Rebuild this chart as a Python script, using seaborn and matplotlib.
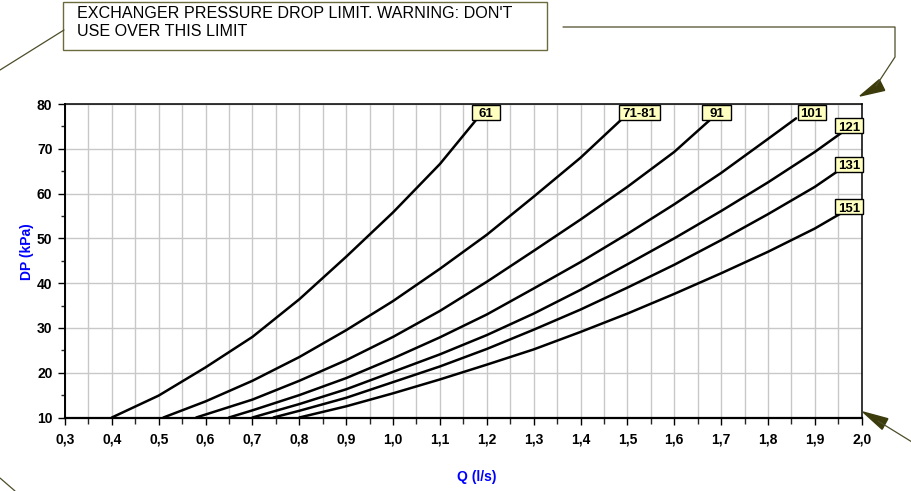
import matplotlib
matplotlib.use("Agg")
import matplotlib.pyplot as plt
from matplotlib.patches import Rectangle, Polygon
from matplotlib.lines import Line2D
from matplotlib.ticker import MultipleLocator, FixedLocator
import seaborn as sns
import pandas as pd

# ---------------- data ----------------
models = ["61", "71-81", "91", "101", "121", "131", "151"]

q61 = [0.40, 0.50, 0.60, 0.70, 0.80, 0.90, 1.00, 1.10, 1.18]
dp61 = [10.0, 14.9, 21.2, 28.0, 36.4, 45.9, 55.8, 66.6, 76.8]

q71 = [0.51, 0.60, 0.70, 0.80, 0.90, 1.00, 1.10, 1.20, 1.30, 1.40, 1.49]
dp71 = [10.0, 13.6, 18.2, 23.5, 29.5, 36.0, 43.2, 50.8, 59.3, 68.0, 76.8]

q91 = [0.58, 0.70, 0.80, 0.90, 1.00, 1.10, 1.20, 1.30, 1.40, 1.50, 1.60, 1.68]
dp91 = [10.0, 14.0, 18.2, 22.8, 28.0, 33.8, 40.3, 47.2, 54.2, 61.5, 69.3, 76.8]

q101 = [0.65, 0.70, 0.80, 0.90, 1.00, 1.10, 1.20, 1.30, 1.40, 1.50, 1.60, 1.70, 1.80, 1.86]
dp101 = [10.0, 11.6, 15.0, 18.8, 23.2, 27.9, 33.0, 38.8, 44.7, 51.0, 57.6, 64.6, 72.2, 76.8]

q121 = [0.70, 0.80, 0.90, 1.00, 1.10, 1.20, 1.30, 1.40, 1.50, 1.60, 1.70, 1.80, 1.90, 1.96]
dp121 = [10.0, 13.0, 16.3, 20.2, 24.1, 28.4, 33.2, 38.5, 44.2, 50.0, 56.1, 62.5, 69.3, 73.8]

q131 = [0.745, 0.80, 0.90, 1.00, 1.10, 1.20, 1.30, 1.40, 1.50, 1.60, 1.70, 1.80, 1.90, 1.953]
dp131 = [10.0, 11.5, 14.4, 17.9, 21.4, 25.3, 29.6, 34.1, 39.0, 44.1, 49.6, 55.4, 61.5, 65.3]

q151 = [0.80, 0.90, 1.00, 1.10, 1.20, 1.30, 1.40, 1.50, 1.60, 1.70, 1.80, 1.90, 1.956]
dp151 = [10.0, 12.5, 15.4, 18.5, 21.8, 25.2, 29.1, 33.2, 37.6, 42.2, 47.0, 52.2, 55.6]

x_ticks = [0.3, 0.4, 0.5, 0.6, 0.7, 0.8, 0.9, 1.0, 1.1, 1.2, 1.3, 1.4, 1.5,
           1.6, 1.7, 1.8, 1.9, 2.0]
x_tick_labels = ["0,3", "0,4", "0,5", "0,6", "0,7", "0,8", "0,9", "1,0", "1,1",
                 "1,2", "1,3", "1,4", "1,5", "1,6", "1,7", "1,8", "1,9", "2,0"]
y_ticks = [10, 20, 30, 40, 50, 60, 70, 80]

x_label = "Q (l/s)"
y_label = "DP (kPa)"
note_line1 = "EXCHANGER PRESSURE DROP LIMIT. WARNING: DON'T"
note_line2 = "USE OVER THIS LIMIT"

# layout: label box centres (data coords) and widths (pixels)
label_pos = [(1.198, 78.2), (1.525, 78.2), (1.690, 78.2), (1.893, 78.2),
             (1.973, 75.1), (1.973, 66.6), (1.973, 57.2)]
label_wpx = [28, 41, 29, 28, 28, 28, 28]

series = [(q61, dp61), (q71, dp71), (q91, dp91), (q101, dp101),
          (q121, dp121), (q131, dp131), (q151, dp151)]
frames = []
for name, (qq, dd) in zip(models, series):
    frames.append(pd.DataFrame({"Q": qq, "DP": dd, "model": name}))
df = pd.concat(frames, ignore_index=True)

# ---------------- figure ----------------
sns.set_theme(style="white")
plt.rcParams["font.family"] = ["Liberation Sans", "DejaVu Sans"]

W, H = 912, 491
fig = plt.figure(figsize=(W / 100, H / 100), dpi=100)
L, R, T, B = 65, 861.7, 104, 417.5
ax = fig.add_axes([L / W, 1 - B / H, (R - L) / W, (B - T) / H])

sns.lineplot(data=df, x="Q", y="DP", hue="model", units="model", estimator=None,
             sort=False, palette=["black"] * len(models), linewidth=1.8,
             legend=False, ax=ax, zorder=3)

ax.set_xlim(0.3, 2.0)
ax.set_ylim(10, 80)
ax.xaxis.set_major_locator(FixedLocator(x_ticks))
ax.set_xticklabels(x_tick_labels)
ax.xaxis.set_minor_locator(MultipleLocator(0.05))
ax.yaxis.set_major_locator(FixedLocator(y_ticks))
ax.yaxis.set_minor_locator(MultipleLocator(5))

ax.grid(which="major", axis="both", color="#c8c8c8", linewidth=1.0, zorder=0)
ax.grid(which="minor", axis="x", color="#c8c8c8", linewidth=1.0, zorder=0)
ax.set_axisbelow(True)

for s in ax.spines.values():
    s.set_visible(True)
    s.set_color("black")
    s.set_linewidth(1.1)
ax.spines["bottom"].set_linewidth(1.6)
ax.spines["left"].set_linewidth(1.4)

ax.tick_params(axis="x", which="major", direction="out", length=5, width=1,
               pad=6, labelsize=10, colors="black", bottom=True)
ax.tick_params(axis="x", which="minor", direction="out", length=4, width=1,
               bottom=True)
ax.tick_params(axis="y", which="major", direction="out", length=5, width=1,
               pad=4, labelsize=10, colors="black", left=True)
ax.tick_params(axis="y", which="minor", direction="out", length=3, width=1,
               left=True)
for lab in ax.get_xticklabels() + ax.get_yticklabels():
    lab.set_fontweight("bold")
ax.set_xlabel("")
ax.set_ylabel("")

# series labels
px_q = (2.0 - 0.3) / (R - L)
px_dp = (80 - 10) / (B - T)
box_h = 15
for name, (cx, cy), wpx in zip(models, label_pos, label_wpx):
    w = wpx * px_q
    h = box_h * px_dp
    ax.add_patch(Rectangle((cx - w / 2, cy - h / 2), w, h, facecolor="#ffffc0",
                           edgecolor="black", linewidth=1.0, zorder=5,
                           clip_on=False))
    ax.text(cx, cy - 0.2, name, ha="center", va="center_baseline", fontsize=9.5,
            fontweight="bold", color="black", zorder=6, clip_on=False)

# axis titles
fig.text(477 / W, 1 - 477 / H, x_label, ha="center", va="center",
         fontsize=10, fontweight="bold", color="#0000ff")
fig.text(27 / W, 1 - 252 / H, y_label, ha="center", va="center",
         fontsize=10, fontweight="bold", color="#0000ff", rotation=90)


def fp(x, y):
    return (x / W, 1 - y / H)


# note box
bx0, by0, bx1, by1 = 63, 2, 547, 50
fig.add_artist(Rectangle(fp(bx0, by1), (bx1 - bx0) / W, (by1 - by0) / H,
                         transform=fig.transFigure, facecolor="white",
                         edgecolor="#6b6b3d", linewidth=1.0))
fig.text(77 / W, 1 - 13.5 / H, note_line1, ha="left", va="center", fontsize=11.6,
         color="black")
fig.text(77 / W, 1 - 32 / H, note_line2, ha="left", va="center", fontsize=11.6,
         color="black")

line_col = "#4d4d2a"
head_col = "#3b3b0c"


def fline(pts, col=line_col, lw=0.9):
    xs = [p[0] / W for p in pts]
    ys = [1 - p[1] / H for p in pts]
    fig.add_artist(Line2D(xs, ys, transform=fig.transFigure, color=col,
                          linewidth=lw))


def fhead(tip, base_c, half):
    tx, ty = tip
    bx, by = base_c
    dx, dy = bx - tx, by - ty
    n = (dx ** 2 + dy ** 2) ** 0.5
    px, py = -dy / n * half, dx / n * half
    pts = [fp(tx, ty), fp(bx + px, by + py), fp(bx - px, by - py)]
    fig.add_artist(Polygon(pts, closed=True, transform=fig.transFigure,
                           facecolor=head_col, edgecolor=head_col))


# top-left leader
fline([(64, 30), (0, 70)])
# top-right connector
fline([(563, 27), (895, 27), (895, 57), (876, 86)])
fhead((860, 96), (882, 85), 6)
# bottom-right arrow
fline([(878, 421), (912, 442)])
fhead((863, 412), (885, 424), 6)
# bottom-left leader
fline([(0, 478), (15, 491)])

fig.savefig("out.png", dpi=100)
